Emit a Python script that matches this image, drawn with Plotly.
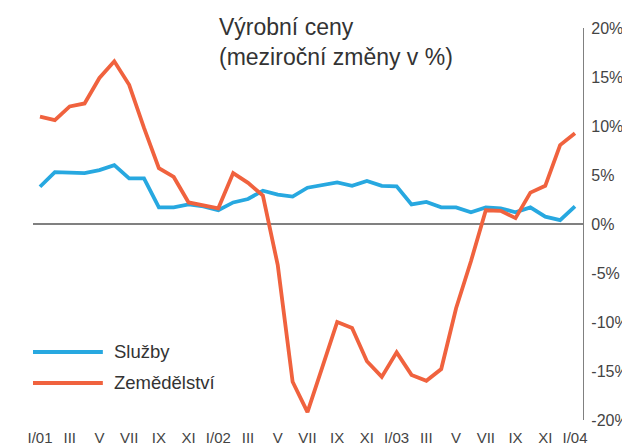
import plotly.graph_objects as go

# months I/2001 .. I/2004
months = list(range(37))
tick_vals = months[::2]
tick_text = ['I/01', 'III', 'V', 'VII', 'IX', 'XI',
             'I/02', 'III', 'V', 'VII', 'IX', 'XI',
             'I/03', 'III', 'V', 'VII', 'IX', 'XI', 'I/04']

sluzby = [3.8, 5.3, 5.25, 5.2, 5.5, 6.0, 4.65, 4.65, 1.7, 1.7,
          2.0, 1.8, 1.4, 2.2, 2.55, 3.4, 3.0, 2.8, 3.7, 4.0,
          4.25, 3.9, 4.4, 3.9, 3.85, 2.0, 2.25, 1.7, 1.7, 1.2,
          1.7, 1.6, 1.2, 1.7, 0.75, 0.4, 1.8]

zemedelstvi = [10.95, 10.6, 12.0, 12.3, 14.9, 16.6, 14.2, 9.8, 5.7, 4.8,
               2.2, 1.9, 1.6, 5.2, 4.2, 2.9, -4.2, -16.1, -19.2, -14.6,
               -10.0, -10.6, -14.0, -15.6, -13.1, -15.4, -16.0, -14.8, -8.6, -3.8,
               1.4, 1.35, 0.6, 3.2, 3.9, 8.05, 9.25]

y_ticks = [20, 15, 10, 5, 0, -5, -10, -15, -20]

blue = '#27a8e0'
orange = '#f0623e'
font_family = 'Liberation Sans, Arial, sans-serif'

fig = go.Figure()
fig.add_trace(go.Scatter(x=months, y=sluzby, mode='lines', name='Služby',
                         line=dict(color=blue, width=3.8), showlegend=False))
fig.add_trace(go.Scatter(x=months, y=zemedelstvi, mode='lines', name='Zemědělství',
                         line=dict(color=orange, width=3.8), showlegend=False))

# hand-made legend with long line keys
for i, (name, color) in enumerate([('Služby', blue), ('Zemědělství', orange)]):
    yk = 0.1735 - i * 0.079
    fig.add_shape(type='line', xref='paper', yref='paper',
                  x0=0.0, x1=0.127, y0=yk, y1=yk,
                  line=dict(color=color, width=4))
    fig.add_annotation(text=name, xref='paper', yref='paper', x=0.1436, y=yk,
                       xanchor='left', yanchor='middle', showarrow=False,
                       font=dict(size=18.5, color='#333333', family=font_family))

fig.add_annotation(text='Výrobní ceny<br>(meziroční změny v %)',
                   xref='paper', yref='paper', x=0.334, y=1.04,
                   xanchor='left', yanchor='top', align='left', showarrow=False,
                   font=dict(size=23, color='#333333', family=font_family))

fig.update_layout(
    width=622, height=439,
    margin=dict(l=25, r=47, t=20, b=27),
    plot_bgcolor='white', paper_bgcolor='white',
    font=dict(family=font_family, color='#444444'),
    xaxis=dict(range=[-0.47, 36.54], tickvals=tick_vals, ticktext=tick_text,
               showgrid=False, zeroline=False, showline=False, ticks='',
               tickfont=dict(size=15, color='#444444'), ticklabelstandoff=7,
               automargin=False),
    yaxis=dict(range=[-20, 20], side='right', tickvals=y_ticks,
               ticktext=[f'{v}%' for v in y_ticks],
               showgrid=False, zeroline=True, zerolinecolor='#808080', zerolinewidth=1.5,
               showline=True, linecolor='#808080', linewidth=1.2, ticks='',
               tickfont=dict(size=16, color='#444444'), ticklabelstandoff=4,
               automargin=False),
)

fig.write_html('out.html')
